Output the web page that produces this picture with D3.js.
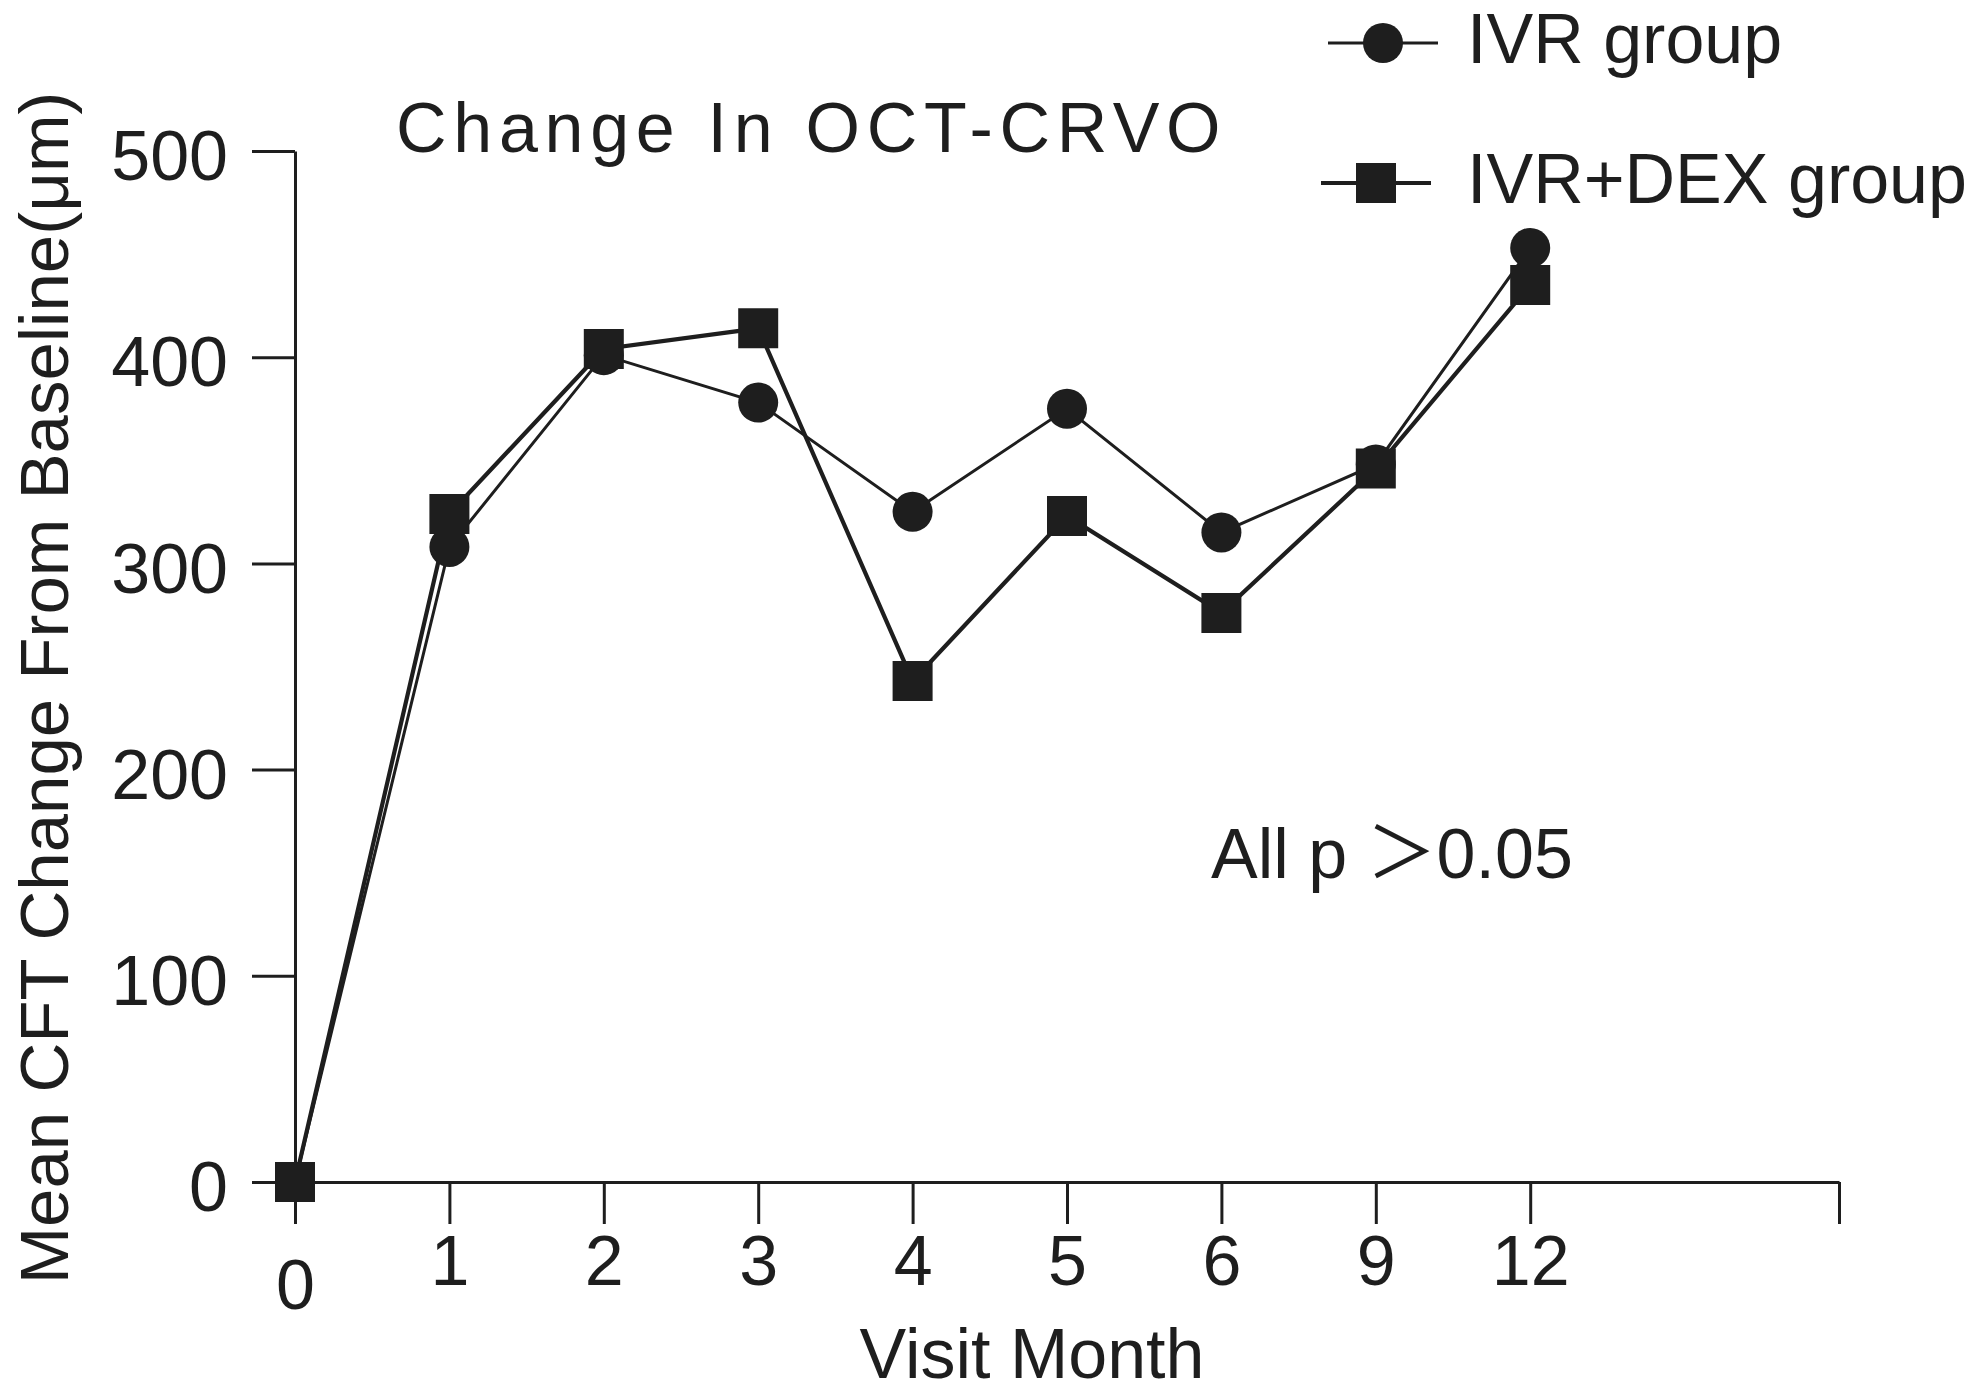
<!DOCTYPE html>
<html>
<head>
<meta charset="utf-8">
<script src="https://cdn.jsdelivr.net/npm/d3@7"></script>
<style>
  html, body { margin: 0; padding: 0; background: #ffffff; }
  svg { display: block; }
  text { font-family: "Liberation Sans", Arial, "Noto Sans CJK SC", sans-serif; fill: #1e1e1e; }
</style>
</head>
<body>
<svg id="chart" width="1983" height="1392"></svg>
<script>
// ---- data ----
const months = ["0", "1", "2", "3", "4", "5", "6", "9", "12"];
const ivrGroup = [0, 308, 401, 378, 325, 375, 315, 348, 453];
const ivrDexGroup = [0, 324, 404, 414, 243, 323, 276, 346, 435];
const yTickValues = [0, 100, 200, 300, 400, 500];
const seriesNames = ["IVR group", "IVR+DEX group"];
const titleText = "Change In OCT-CRVO";
const xAxisTitle = "Visit Month";
const yAxisTitle = "Mean CFT Change From Baseline(\u03bcm)";
const noteText = "All p \uff1e0.05";

// ---- layout ----
const ink = "#1e1e1e";
const svg = d3.select("#chart");
const axisSlots = months.concat(["_gap", "_end"]);
const x = d3.scalePoint().domain(axisSlots).range([295, 1839]);
const y = d3.scaleLinear().domain([0, 500]).range([1182, 151]);

// x axis
const xAxis = d3.axisBottom(x)
  .tickValues(months.concat(["_end"]))
  .tickFormat(d => d.startsWith("_") ? "" : d)
  .tickSize(42).tickSizeOuter(0).tickPadding(11);
const gx = svg.append("g").attr("transform", `translate(0,${y(0)})`).call(xAxis);
gx.select(".domain").attr("stroke", ink).attr("stroke-width", 3.2);
gx.selectAll(".tick line").attr("stroke", ink).attr("stroke-width", 3);
gx.selectAll(".tick text")
  .attr("font-size", 70).attr("fill", ink)
  .attr("font-family", "Liberation Sans, Arial, sans-serif")
  .attr("dy", d => d === "0" ? "1.05em" : "0.71em");

// y axis
const yAxis = d3.axisLeft(y)
  .tickValues(yTickValues)
  .tickSize(43).tickSizeOuter(0).tickPadding(24);
const gy = svg.append("g").attr("transform", `translate(${x("0")},0)`).call(yAxis);
gy.select(".domain").attr("stroke", ink).attr("stroke-width", 3);
gy.selectAll(".tick line").attr("stroke", ink).attr("stroke-width", 3);
gy.selectAll(".tick text")
  .attr("font-size", 70).attr("fill", ink)
  .attr("font-family", "Liberation Sans, Arial, sans-serif")
  .attr("dy", "0.41em");

// lines
const rowsIvr = months.map((m, i) => ({ m, v: ivrGroup[i] }));
const rowsDex = months.map((m, i) => ({ m, v: ivrDexGroup[i] }));
const line = d3.line().x(d => x(d.m)).y(d => y(d.v));

svg.append("path").datum(rowsIvr).attr("d", line)
  .attr("fill", "none").attr("stroke", ink).attr("stroke-width", 3);
svg.append("path").datum(rowsDex).attr("d", line)
  .attr("fill", "none").attr("stroke", ink).attr("stroke-width", 4.2);

// markers
const circleSym = d3.symbol().type(d3.symbolCircle).size(Math.PI * 20 * 20);
const squareSym = d3.symbol().type(d3.symbolSquare).size(40 * 40);

svg.append("g").selectAll("path").data(rowsIvr).join("path")
  .attr("d", circleSym)
  .attr("transform", d => `translate(${x(d.m)},${y(d.v)})`)
  .attr("fill", ink);
svg.append("g").selectAll("path").data(rowsDex).join("path")
  .attr("d", squareSym)
  .attr("transform", d => `translate(${x(d.m)},${y(d.v)})`)
  .attr("fill", ink);

// legend
const legend = svg.append("g");
const legendRows = [
  { name: seriesNames[0], sym: circleSym, x0: 1328, x1: 1438, cy: 43, w: 3 },
  { name: seriesNames[1], sym: squareSym, x0: 1321, x1: 1431, cy: 183, w: 4.2 }
];
legendRows.forEach(r => {
  legend.append("line").attr("x1", r.x0).attr("x2", r.x1).attr("y1", r.cy).attr("y2", r.cy)
    .attr("stroke", ink).attr("stroke-width", r.w);
  legend.append("path").attr("d", r.sym).attr("transform", `translate(${(r.x0 + r.x1) / 2},${r.cy})`)
    .attr("fill", ink);
  legend.append("text").attr("x", 1467).attr("y", r.cy + 20).attr("font-size", 70).text(r.name);
});

// title
svg.append("text").attr("x", 396).attr("y", 152).attr("font-size", 70)
  .attr("letter-spacing", 6.7).text(titleText);

// note
svg.append("text").attr("x", 1211).attr("y", 878).attr("font-size", 70).text(noteText);

// axis titles
svg.append("text").attr("x", 1032).attr("y", 1378).attr("font-size", 70)
  .attr("text-anchor", "middle").text(xAxisTitle);
svg.append("text").attr("transform", "translate(68,688) rotate(-90)")
  .attr("font-size", 69).attr("text-anchor", "middle").text(yAxisTitle);
</script>
</body>
</html>
